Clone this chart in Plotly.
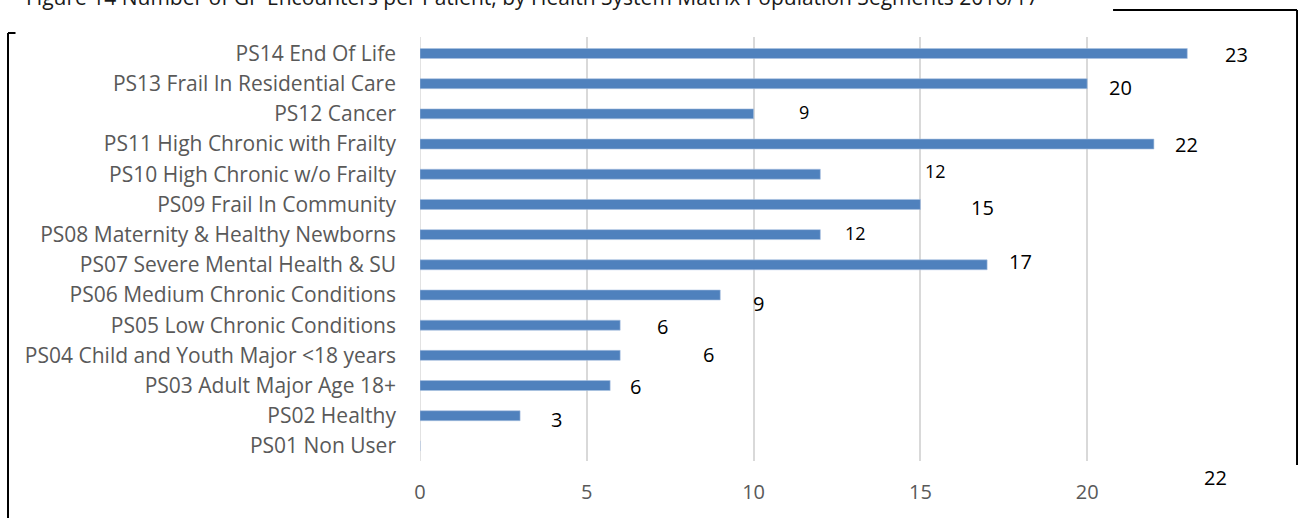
import plotly.graph_objects as go

categories = [
    "PS14 End Of Life",
    "PS13 Frail In Residential Care",
    "PS12 Cancer",
    "PS11 High Chronic with Frailty",
    "PS10 High Chronic w/o Frailty",
    "PS09 Frail In Community",
    "PS08 Maternity & Healthy Newborns",
    "PS07 Severe Mental Health & SU",
    "PS06 Medium Chronic Conditions",
    "PS05 Low Chronic Conditions",
    "PS04 Child and Youth Major <18 years",
    "PS03 Adult Major Age 18+",
    "PS02 Healthy",
    "PS01 Non User",
]
bar_values = [23, 20, 10, 22, 12, 15, 12, 17, 9, 6, 6, 5.7, 3, 0]
label_texts = ["23", "20", "9", "22", "12", "15", "12", "17", "9", "6", "6", "6", "3", ""]
stray_label = "22"
x_tick_vals = [0, 5, 10, 15, 20, 25]
x_tick_text = ["0", "5", "10", "15", "20", ""]
title_text = "Figure 14 Number of GP Encounters per Patient, by Health System Matrix Population Segments 2016/17"

# label placement (pixel offsets from bar end) and font sizes
label_xshift = [49, 33, 50, 33, 115, 62, 35, 33, 38, 42, 88, 25, 36, 0]
label_yshift = [-1, -4, 2, 0, 3, -3, 2, 3, -9, -1, 1, -1, -4, 0]
label_size = [20, 20, 18, 20, 18, 20, 18, 20, 20, 20, 20, 20, 20, 20]

FONT = "Open Sans"
fig = go.Figure(go.Bar(
    x=bar_values, y=categories, orientation="h",
    marker=dict(color="#4f81bd", line=dict(color="#a9c1e0", width=0.6)),
    width=0.33, showlegend=False,
))

annotations = []
for cat, v, t, xs, ys, fs in zip(categories, bar_values, label_texts, label_xshift, label_yshift, label_size):
    if not t:
        continue
    annotations.append(dict(x=v, y=cat, xref="x", yref="y", text=t, showarrow=False,
                            xanchor="center", yanchor="middle", xshift=xs, yshift=ys,
                            font=dict(family=FONT, size=fs, color="#000000")))
annotations.append(dict(x=0.9544, y=-0.040, xref="paper", yref="paper", text=stray_label,
                        showarrow=False, xanchor="center", yanchor="middle",
                        font=dict(family=FONT, size=20, color="#000000")))
annotations.append(dict(x=-0.475, y=1.0943, xref="paper", yref="paper", text=title_text,
                        showarrow=False, xanchor="left", yanchor="middle",
                        font=dict(family=FONT, size=21, color="#1a1a1a")))

line = dict(color="#000000", width=2)
shapes = [
    dict(type="line", xref="paper", yref="paper", x0=-0.494, x1=-0.494, y0=1.0094, y1=-0.14, line=line),
    dict(type="line", xref="paper", yref="paper", x0=-0.494, x1=-0.485, y0=1.0094, y1=1.0094, line=line),
    dict(type="line", xref="paper", yref="paper", x0=0.831, x1=1.0516, y0=1.0637, y1=1.0637, line=line),
    dict(type="line", xref="paper", yref="paper", x0=1.0516, x1=1.0516, y0=1.0637, y1=-0.0094, line=line),
]

fig.update_layout(
    width=1298, height=518,
    margin=dict(l=420, r=44, t=37, b=57),
    paper_bgcolor="white", plot_bgcolor="white",
    annotations=annotations, shapes=shapes,
    xaxis=dict(range=[0, 25], tickvals=x_tick_vals, ticktext=x_tick_text,
               showgrid=True, gridcolor="#d9d9d9", gridwidth=1.5,
               zeroline=False, showline=False, ticks="", ticklabelstandoff=17,
               tickfont=dict(family=FONT, size=20, color="#595959")),
    yaxis=dict(autorange="reversed", showgrid=False, zeroline=False, showline=False,
               ticks="", ticklabelstandoff=23,
               tickfont=dict(family=FONT, size=21, color="#595959")),
)
fig.add_shape(type="line", xref="x", yref="paper", x0=0, x1=0, y0=0, y1=1,
              line=dict(color="#d9d9d9", width=1.5), layer="below")
fig.write_html("out.html")
